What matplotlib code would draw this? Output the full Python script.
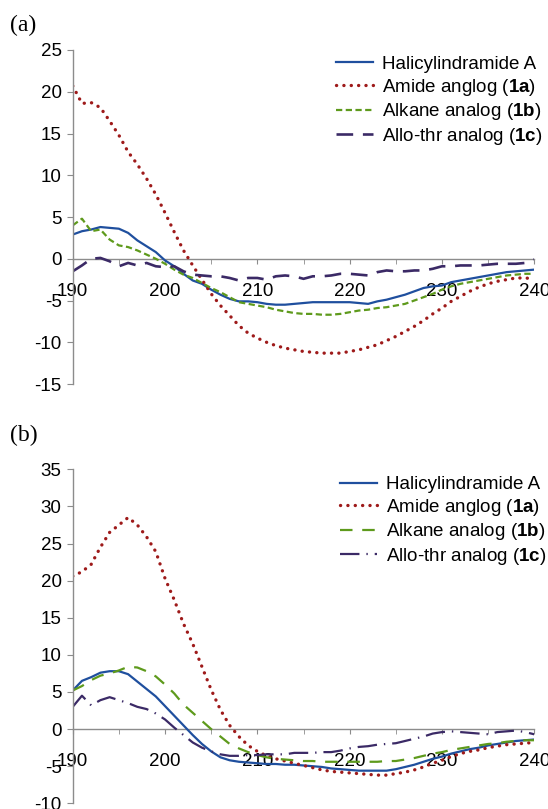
import matplotlib
matplotlib.use("Agg")
import matplotlib.pyplot as plt

plt.rcParams["font.family"] = ["Liberation Sans", "DejaVu Sans"]
plt.rcParams["mathtext.fontset"] = "custom"
plt.rcParams["mathtext.rm"] = "Liberation Sans"
plt.rcParams["mathtext.bf"] = "Liberation Sans:bold"
plt.rcParams["lines.scale_dashes"] = False
plt.rcParams["axes.unicode_minus"] = False

wavelength = list(range(190, 241))

labels = ["Halicylindramide A", "Amide anglog ($\\mathbf{1a}$)",
          "Alkane analog ($\\mathbf{1b}$)", "Allo-thr analog ($\\mathbf{1c}$)"]

# panel (a)
a_hali = [2.9, 3.3, 3.5, 3.8, 3.7, 3.6, 3.1, 2.2, 1.5, 0.8,
          -0.2, -0.9, -1.8, -2.6, -3.0, -3.7, -4.3, -4.8, -5.1, -5.1,
          -5.2, -5.4, -5.5, -5.5, -5.4, -5.3, -5.2, -5.2, -5.2, -5.2,
          -5.2, -5.3, -5.4, -5.1, -4.9, -4.6, -4.3, -3.9, -3.5, -3.3,
          -3.2, -2.8, -2.6, -2.4, -2.2, -2.0, -1.8, -1.6, -1.5, -1.4, -1.3]
a_amide = [20.7, 18.6, 18.7, 18.1, 16.5, 14.8, 12.8, 11.3, 9.6, 7.7,
           5.5, 3.2, 1.0, -0.8, -2.5, -4.2, -5.6, -6.8, -8.0, -8.9,
           -9.5, -10.0, -10.4, -10.7, -10.9, -11.1, -11.2, -11.3, -11.3, -11.3,
           -11.1, -10.9, -10.6, -10.3, -9.8, -9.3, -8.7, -8.1, -7.4, -6.6,
           -5.9, -5.1, -4.5, -3.9, -3.4, -3.0, -2.7, -2.5, -2.3, -2.3, -2.4]
a_alkane = [4.0, 4.8, 3.3, 3.5, 2.3, 1.6, 1.4, 1.0, 0.5, 0.0,
            -0.6, -1.3, -1.9, -2.3, -2.9, -3.5, -4.0, -4.6, -5.2, -5.4,
            -5.6, -5.8, -6.1, -6.3, -6.5, -6.6, -6.6, -6.7, -6.7, -6.6,
            -6.4, -6.2, -6.1, -5.9, -5.8, -5.6, -5.4, -5.0, -4.6, -4.2,
            -3.7, -3.3, -3.0, -2.8, -2.6, -2.4, -2.2, -2.0, -1.9, -1.8, -1.8]
a_allo = [-1.5, -0.8, 0.0, 0.1, -0.3, -0.9, -0.5, -0.8, -0.5, -0.9,
          -1.0, -0.9, -1.5, -1.9, -2.0, -2.1, -2.1, -2.3, -2.6, -2.3,
          -2.3, -2.5, -2.1, -2.0, -2.1, -2.4, -2.1, -2.1, -2.0, -1.8,
          -1.8, -1.9, -2.0, -1.6, -1.4, -1.5, -1.5, -1.4, -1.4, -1.2,
          -0.9, -0.9, -0.8, -0.8, -0.8, -0.7, -0.6, -0.6, -0.6, -0.5, -0.1]

# panel (b)
b_hali = [5.2, 6.5, 7.0, 7.6, 7.8, 7.8, 7.4, 6.4, 5.4, 4.4,
          3.1, 1.8, 0.5, -0.8, -2.0, -3.0, -3.8, -4.2, -4.4, -4.5,
          -4.6, -4.7, -4.7, -4.8, -4.8, -4.9, -5.0, -5.1, -5.3, -5.4,
          -5.5, -5.6, -5.6, -5.6, -5.6, -5.4, -5.1, -4.8, -4.4, -4.0,
          -3.7, -3.3, -3.0, -2.7, -2.5, -2.2, -2.0, -1.8, -1.6, -1.5, -1.4]
b_amide = [20.6, 21.2, 22.2, 24.5, 26.5, 27.5, 28.5, 27.5, 25.9, 23.9,
           20.3, 17.4, 14.2, 11.5, 8.4, 5.3, 2.6, 0.5, -1.0, -2.2,
           -3.0, -3.6, -4.0, -4.3, -4.6, -4.9, -5.2, -5.5, -5.7, -5.8,
           -5.9, -6.0, -6.1, -6.2, -6.2, -6.0, -5.8, -5.5, -5.1, -4.6,
           -4.2, -3.7, -3.3, -3.0, -2.8, -2.5, -2.3, -2.1, -2.0, -1.9, -1.8]
b_alkane = [5.2, 5.8, 6.6, 7.2, 7.5, 7.9, 8.4, 8.3, 7.8, 7.1,
            6.0, 4.8, 3.3, 2.2, 1.1, 0.0, -1.0, -2.0, -2.6, -3.1,
            -3.5, -3.8, -4.0, -4.1, -4.2, -4.3, -4.3, -4.4, -4.4, -4.4,
            -4.4, -4.4, -4.4, -4.4, -4.3, -4.3, -4.1, -3.9, -3.6, -3.3,
            -3.1, -2.8, -2.6, -2.4, -2.2, -2.0, -1.9, -1.7, -1.6, -1.5, -1.5]
b_allo = [3.0, 4.5, 3.2, 3.9, 4.3, 3.9, 3.5, 3.0, 2.7, 2.1,
          1.3, 0.2, -0.8, -1.8, -2.5, -3.0, -3.4, -3.6, -3.6, -3.5,
          -3.5, -3.4, -3.4, -3.4, -3.2, -3.2, -3.2, -3.1, -3.1, -2.9,
          -2.6, -2.4, -2.3, -2.1, -2.0, -1.9, -1.6, -1.3, -1.0, -0.6,
          -0.4, -0.3, -0.4, -0.5, -0.6, -0.7, -0.4, -0.3, -0.2, -0.4, -0.7]

blue = "#1f4f9e"
red = "#9e1a1a"
green = "#5e9a1c"
purple = "#3b2a66"
axis_gray = "#8c8c8c"

fig = plt.figure(figsize=(5.48, 8.09), dpi=100)
ax_a = fig.add_axes([0.1327, 0.5253, 0.8423, 0.4129])
ax_b = fig.add_axes([0.1327, 0.0070, 0.8423, 0.4129])


def style_axis(ax, ylim, ystep):
    ax.set_xlim(190, 240)
    ax.set_ylim(*ylim)
    ax.set_yticks(range(ylim[0], ylim[1] + 1, ystep))
    ax.set_xticks(range(190, 241, 10))
    ax.set_xticks(range(195, 240, 10), minor=True)
    for s in ["top", "right"]:
        ax.spines[s].set_visible(False)
    ax.spines["bottom"].set_position(("data", 0))
    ax.spines["bottom"].set_zorder(0)
    for s in ["left", "bottom"]:
        ax.spines[s].set_color(axis_gray)
        ax.spines[s].set_linewidth(1.0)
    ax.tick_params(axis="y", direction="out", length=4, color=axis_gray,
                   labelsize=13.5, pad=4)
    ax.tick_params(axis="x", which="both", direction="out", length=3.5,
                   color=axis_gray, labelsize=13.5, pad=14)
    ax.patch.set_visible(False)


lw = 1.6
ax_a.plot(wavelength, a_hali, color=blue, lw=lw, label=labels[0])
ax_a.plot(wavelength, a_amide, color=red, lw=2.4, linestyle=(0, (0.1, 5.2)),
          dash_capstyle="round", label=labels[1])
ax_a.plot(wavelength, a_alkane, color=green, lw=lw, linestyle=(0, (4.5, 2.5)),
          label=labels[2])
ax_a.plot(wavelength, a_allo, color=purple, lw=1.9, linestyle=(0, (12, 7)),
          label=labels[3])
style_axis(ax_a, (-15, 25), 5)

ax_b.plot(wavelength, b_hali, color=blue, lw=lw, label=labels[0])
ax_b.plot(wavelength, b_amide, color=red, lw=2.4, linestyle=(0, (0.1, 5.2)),
          dash_capstyle="round", label=labels[1])
ax_b.plot(wavelength, b_alkane, color=green, lw=lw, linestyle=(0, (9, 7)),
          label=labels[2])
ax_b.plot(wavelength, b_allo, color=purple, lw=1.6, linestyle=(0, (14, 5, 1, 5)),
          label=labels[3])
style_axis(ax_b, (-10, 35), 5)

for ax, x0, ytop in [(ax_a, 0.613, 0.931), (ax_b, 0.620, 0.4116)]:
    ax.legend(loc="upper left", bbox_to_anchor=(x0, ytop),
              bbox_transform=fig.transFigure, frameon=False, fontsize=13.5,
              handlelength=1.97, handletextpad=0.48, labelspacing=0.19,
              borderaxespad=0, borderpad=0)

fig.text(0.018, 0.969, "(a)", family="Liberation Serif", fontsize=17,
         va="center", ha="left")
fig.text(0.018, 0.462, "(b)", family="Liberation Serif", fontsize=17,
         va="center", ha="left")

fig.savefig("out.png", dpi=100)
